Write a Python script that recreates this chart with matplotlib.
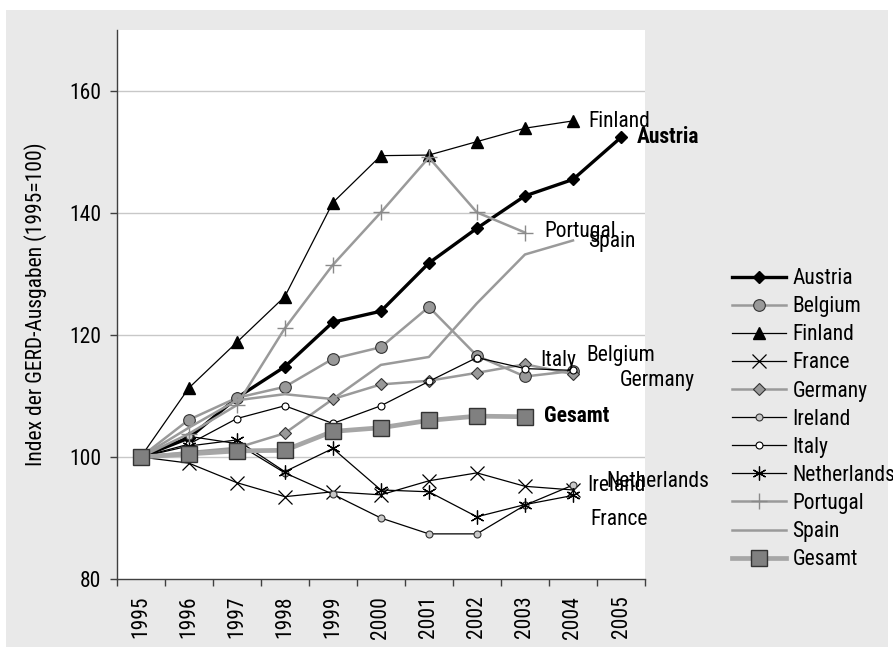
import matplotlib
matplotlib.use("Agg")
import matplotlib.pyplot as plt
from matplotlib.patches import Rectangle

plt.rcParams['font.family'] = ['Liberation Sans Narrow', 'Roboto Condensed', 'Open Sans Condensed',
                               'Liberation Sans', 'DejaVu Sans']
FS = 15.5

years = ["1995", "1996", "1997", "1998", "1999", "2000", "2001", "2002", "2003", "2004", "2005"]

austria = [100, 103.1, 109.7, 114.8, 122.1, 123.9, 131.8, 137.5, 142.8, 145.5, 152.4]
belgium = [100, 106.1, 109.7, 111.5, 116.1, 118.0, 124.6, 116.6, 113.2, 114.1]
finland = [100, 111.3, 118.8, 126.3, 141.7, 149.4, 149.5, 151.7, 153.9, 155.1]
france = [100, 99.0, 95.8, 93.5, 94.3, 93.8, 96.1, 97.4, 95.2, 94.6]
germany = [100, 100.8, 101.5, 103.9, 109.5, 111.9, 112.5, 113.8, 115.2, 113.6]
ireland = [100, 103.4, 102.2, 97.4, 93.9, 90.0, 87.4, 87.4, 92.1, 95.4]
italy = [100, 102.1, 106.3, 108.4, 105.5, 108.4, 112.4, 116.3, 114.5, 114.2]
netherlands = [100, 101.8, 102.8, 97.6, 101.4, 94.6, 94.3, 90.2, 92.2, 93.7]
portugal = [100, 103.8, 108.5, 121.1, 131.5, 140.1, 149.1, 140.1, 136.8]
spain = [100, 104.8, 109.3, 110.3, 109.5, 115.1, 116.4, 125.2, 133.2, 135.5]
gesamt = [100, 100.5, 101.0, 101.1, 104.2, 104.8, 106.0, 106.7, 106.6]

fig = plt.figure(figsize=(8.93, 6.55), dpi=100)
fig.patch.set_facecolor('white')
fig.patches.append(Rectangle((0.0067, 0.0122), 0.9877, 0.9725, transform=fig.transFigure,
                             facecolor='#e9e9e9', edgecolor='none', zorder=-5))

ax = fig.add_axes([0.1307, 0.116, 0.5916, 0.8382])
ax.set_facecolor('white')

series = [
    ("Austria", austria, dict(color='black', lw=2.4, marker='D', ms=6.5, mfc='black', mec='black')),
    ("Belgium", belgium, dict(color='#9a9a9a', lw=1.8, marker='o', ms=8.4, mfc='#999999', mec='#333333', mew=0.8)),
    ("Finland", finland, dict(color='black', lw=0.9, marker='^', ms=8.5, mfc='black', mec='black')),
    ("France", france, dict(color='black', lw=0.9, marker='x', ms=10, mec='black', mew=0.9)),
    ("Germany", germany, dict(color='#9a9a9a', lw=1.8, marker='D', ms=6.5, mfc='#999999', mec='#333333', mew=0.8)),
    ("Ireland", ireland, dict(color='black', lw=0.9, marker='o', ms=5, mfc='#c8c8c8', mec='#333333', mew=0.8)),
    ("Italy", italy, dict(color='black', lw=0.9, marker='o', ms=5, mfc='white', mec='black', mew=0.8)),
    ("Netherlands", netherlands, dict(color='black', lw=0.9, marker=(6, 2, 0), ms=10, mec='black', mew=0.9)),
    ("Portugal", portugal, dict(color='#9a9a9a', lw=1.8, marker='+', ms=12, mec='#8a8a8a', mew=1.0)),
    ("Spain", spain, dict(color='#9a9a9a', lw=1.8)),
    ("Gesamt", gesamt, dict(color='#a6a6a6', lw=3.4, marker='s', ms=12, mfc='#808080', mec='#333333', mew=1.0)),
]

handles = []
for i, (name, vals, style) in enumerate(series):
    h, = ax.plot(range(len(vals)), vals, label=name, zorder=3 + i, clip_on=False, **style)
    handles.append(h)

ax.set_xlim(-0.5, 10.5)
ax.set_ylim(80, 170)
ax.set_yticks([80, 100, 120, 140, 160])
ax.set_xticks(range(len(years)))
ax.set_xticklabels(years, rotation=90, fontsize=FS)
ax.set_xticks([i - 0.5 for i in range(len(years) + 1)], minor=True)
ax.tick_params(axis='x', which='major', length=0, pad=12)
ax.tick_params(axis='x', which='minor', length=5, width=1, color='#404040', direction='out')
ax.tick_params(axis='y', which='major', length=5, width=1, color='#404040', direction='out',
               labelsize=FS, pad=6)
for y in [100, 120, 140, 160]:
    ax.axhline(y, color='#c8c8c8', lw=1.0, zorder=1)
for s in ['top', 'right']:
    ax.spines[s].set_visible(False)
for s in ['left', 'bottom']:
    ax.spines[s].set_color('#404040')
    ax.spines[s].set_linewidth(1.0)

ax.set_ylabel("Index der GERD-Ausgaben (1995=100)", fontsize=FS, labelpad=16)

labels = [
    ("Finland", 9.32, 155.0, 'normal'),
    ("Austria", 10.32, 152.5, 'bold'),
    ("Portugal", 8.40, 136.9, 'normal'),
    ("Spain", 9.32, 135.3, 'normal'),
    ("Italy", 8.31, 115.9, 'normal'),
    ("Belgium", 9.27, 116.7, 'normal'),
    ("Germany", 9.98, 112.6, 'normal'),
    ("Gesamt", 8.40, 106.7, 'bold'),
    ("Ireland", 9.30, 95.4, 'normal'),
    ("Netherlands", 9.69, 96.0, 'normal'),
    ("France", 9.36, 89.8, 'normal'),
]
for text, x, y, w in labels:
    ax.text(x, y, text, fontsize=FS, fontweight=w, ha='left', va='center', zorder=20, clip_on=False)

fig.legend(handles=handles, loc='center left', bbox_to_anchor=(0.808, 0.36),
           frameon=False, fontsize=FS, handlelength=2.5, handletextpad=0.3,
           labelspacing=0.33, borderpad=0)

fig.savefig("out.png", dpi=100, facecolor=fig.get_facecolor())
